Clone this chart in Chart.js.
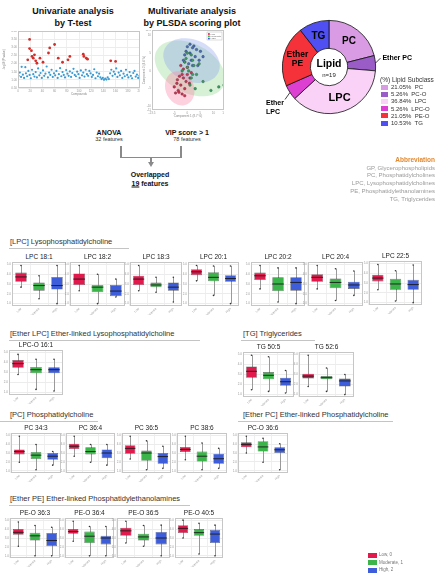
<!DOCTYPE html>
<html>
<head>
<meta charset="utf-8">
<script src="https://cdn.jsdelivr.net/npm/chart.js@4.4.1/dist/chart.umd.min.js"></script>
<style>
  html, body { margin: 0; padding: 0; background: #fff; }
  body { width: 448px; height: 583px; position: relative; overflow: hidden;
         font-family: 'Liberation Sans', Arial, sans-serif; color: #111; }
  .abs { position: absolute; white-space: pre; line-height: 1; }
  canvas { position: absolute; }
  .rule { position: absolute; height: 1px; background: #c4c4c4; }
  .arrow { position: absolute; background: #8a8a8a; }
</style>
</head>
<body>
<script>
// ---- data: lipid subclass doughnut ----
const subclassCodes = ['PC', 'PC-O', 'LPC', 'LPC-O', 'PE-O', 'TG'];
const subclassCounts = [4, 1, 7, 1, 4, 2];
const subclassColors = ['#d99be3', '#9a5cc6', '#fad2f8', '#de3fd3', '#f5323a', '#4f4ff2'];
const sliceNames = ['PC', '', 'LPC', '', 'Ether\nPE', 'TG'];
const outerNames = ['', 'Ether PC', '', 'Ether\nLPC', '', ''];

// ---- data: univariate t-test plot ----
const tIndexRed = [16, 19, 19, 22, 23, 25, 27, 29, 31, 36, 41, 50, 52, 60, 66, 73, 82, 85, 107, 108, 112, 114, 152, 160];
const tScoreRed = [2.23, 3.48, 2.92, 2.79, 2.44, 2.33, 2.54, 2.17, 2.02, 2.33, 2.08, 2.65, 2.96, 3.17, 2.33, 2.08, 2.23, 2.44, 2.58, 2.44, 2.33, 2.27, 2.17, 2.13];
const tIndexBlue = [1, 3, 5, 6, 8, 10, 12, 13, 15, 17, 19, 21, 23, 25, 27, 29, 31, 33, 35, 37, 39, 41, 43, 45, 47, 49,
  51, 53, 55, 57, 59, 61, 63, 65, 67, 69, 71, 73, 75, 77, 79, 81, 83, 85, 87, 89, 91, 93, 95, 97, 99,
  101, 103, 105, 107, 109, 111, 113, 115, 117, 119, 121, 123, 125, 127, 129, 131, 133, 135, 137, 139,
  141, 143, 145, 147, 149, 151, 153, 155, 157, 159, 161, 163, 165, 167, 169, 171, 173, 175, 177, 179,
  181, 183, 185, 187, 189, 191, 193, 195, 197, 199];
const tScoreBlue = [1.25, 1.45, 1.18, 1.80, 1.32, 1.12, 1.78, 1.40, 1.22, 1.55, 1.30, 1.10, 1.62, 1.35, 1.20, 1.48, 1.15, 1.70, 1.28, 1.42, 1.12, 1.58, 1.25, 1.38, 1.82, 1.15,
  1.45, 1.30, 1.62, 1.18, 1.40, 1.28, 1.55, 1.12, 1.35, 1.72, 1.22, 1.48, 1.30, 1.15, 1.60, 1.38, 1.25, 1.52, 1.18, 1.42, 1.68, 1.30, 1.22, 1.50, 1.35,
  1.12, 1.58, 1.28, 1.45, 1.20, 1.62, 1.35, 1.25, 1.55, 1.40, 1.18, 1.30, 1.65, 1.10, 1.45, 1.22, 1.38, 1.15, 1.05, 1.12,
  1.00, 1.08, 1.02, 1.15, 1.05, 1.40, 1.62, 1.25, 1.50, 1.35, 1.70, 1.18, 1.45, 1.28, 1.55, 1.12, 1.38, 1.22, 1.62, 1.30,
  1.15, 1.48, 1.25, 1.10, 1.42, 1.55, 1.20, 1.32, 1.12, 1.25];

// ---- data: PLS-DA score plot ----
const plsLowX = [-4, -3.5, -2, -1.5, -0.5, -3, -2.5, -1, -3.8, 0, -1.5, -2.5, 0.8, -1, -3.2, -2, 1, -1, 0, 1.5, -5, -4.5];
const plsLowY = [-3.5, -5.5, -6.5, -2, -3, -1.5, -4, -5, -2.5, -1, 0.5, 1.5, -3.5, -7, -6, -1, -2, 2.5, 1, -0.5, -4.5, -6.2];
const plsModX = [0, 1.5, 2, -1, 3.5, 1.5, 12, 14, 0.5, 2.5, -0.5, 4.5, 1, 3, -2, 0, 6, 2, 9];
const plsModY = [1, -2, 3, 2.5, -1, 4.5, -4.5, -4, 0, 1.5, 3.5, 2, -4, -5, 0, 5, -3, -1, -5.5];
const plsHighX = [1, 2, 3, 4.5, -1, 0, 2.5, 5, 1.5, -0.5, 3.5, 0.5, 2, 6, -1.5, 1, 4];
const plsHighY = [5, 6.5, 4, 3, 4.5, 6.8, 7, 5.5, 3, 5.5, 6, 2, 1.5, 4, 3, 7.5, 1.5];
// confidence ellipses: Moderate, High, Low (centre, semi-axis vectors in data units)
const ellCx = [1.0, 1.6, -2.9];
const ellCy = [0.7, 2.9, -4.9];
const ellUx = [12.6, 10.2, 1.2];
const ellUy = [-5.2, -3.4, -4.8];
const ellVx = [4.7, 3.5, 5.5];
const ellVy = [5.9, 5.3, 0.3];

// ---- data: box plots (min, q1, median, q3, max; scaled values) ----
const groupLabels = ['Low', 'Moderate', 'High'];
const groupColors = ['#e2194c', '#3bb54a', '#3d5ddb'];
const panelNames = ['LPC 18:1', 'LPC 18:2', 'LPC 18:3', 'LPC 20:1', 'LPC 20:2', 'LPC 20:4', 'LPC 22:5',
  'LPC-O 16:1', 'TG 50:5', 'TG 52:6',
  'PC 34:3', 'PC 36:4', 'PC 36:5', 'PC 38:6', 'PC-O 36:6',
  'PE-O 36:3', 'PE-O 36:4', 'PE-O 36:5', 'PE-O 40:5'];
const lowStats = [
  [4.2, 5.6, 6.8, 7.9, 9.7], [3.3, 4.75, 6.25, 7.7, 9.7], [3.3, 4.75, 6.25, 7.1, 9.7], [5.8, 7.25, 8.1, 8.75, 9.7],
  [3.75, 6.0, 7.1, 7.9, 9.7], [3.75, 5.6, 6.7, 7.5, 9.7], [3.3, 5.4, 6.25, 7.1, 9.7],
  [4.5, 6.2, 7.2, 8.1, 9.5], [1.2, 4.2, 5.8, 7.0, 9.8], [2.0, 4.0, 4.6, 5.2, 9.8],
  [2.4, 4.6, 5.4, 6.0, 9.7], [4.1, 6.1, 6.9, 7.6, 9.7], [3.3, 4.8, 6.3, 7.2, 9.7], [3.1, 5.3, 6.0, 6.7, 9.7], [5.0, 6.6, 7.4, 8.0, 9.7],
  [2.7, 5.9, 6.6, 7.5, 9.5], [4.1, 6.2, 6.8, 7.5, 9.7], [3.6, 5.6, 7.0, 7.9, 9.7], [5.0, 6.4, 7.7, 8.6, 10]];
const modStats = [
  [1.25, 3.3, 4.6, 5.4, 7.1], [0, 2.9, 4.2, 4.75, 7.5], [2.9, 4.2, 4.75, 5.4, 6.7], [2.1, 5.7, 6.7, 8.0, 9.6],
  [0.4, 3.2, 5.0, 6.7, 9.1], [0.8, 3.9, 5.4, 6.4, 8.9], [0.4, 3.3, 4.75, 6.1, 8.1],
  [0.8, 4.8, 5.7, 6.4, 8.3], [0.8, 3.8, 4.8, 5.6, 9.4], [0.8, 3.8, 4.2, 4.6, 6.6],
  [0.3, 3.3, 4.4, 5.3, 7.4], [2.4, 4.6, 5.4, 6.6, 7.4], [0.3, 2.8, 5.0, 5.7, 8.4], [0.3, 2.6, 4.1, 5.4, 7.8], [2.4, 5.4, 6.7, 8.3, 9.1],
  [0, 4.3, 5.6, 6.5, 8.5], [0, 3.6, 5.5, 6.8, 8.2], [2.7, 4.3, 5.3, 6.2, 8.5], [0.5, 5.6, 6.5, 7.5, 9.1]];
const highStats = [
  [0, 3.6, 4.6, 6.8, 9.7], [1.7, 1.9, 3.2, 4.75, 6.25], [0.4, 3.3, 4.2, 5.4, 6.7], [0, 5.6, 6.4, 7.25, 9.6],
  [0, 3.3, 5.4, 6.7, 9.1], [2.1, 3.75, 4.75, 5.6, 8.3], [0, 3.3, 4.6, 5.8, 9.6],
  [0.4, 4.8, 5.7, 6.3, 8.3], [0.4, 2.2, 3.2, 4.2, 6.0], [0, 2.0, 3.4, 4.0, 5.0],
  [1.6, 3.1, 4.1, 5.0, 5.4], [1.6, 3.5, 5.0, 6.0, 7.4], [0.7, 2.0, 4.0, 5.0, 6.9], [0.7, 2.0, 3.4, 4.8, 6.3], [0.3, 5.0, 5.9, 6.6, 7.6],
  [0, 2.7, 4.3, 6.4, 8.0], [0, 3.2, 5.0, 5.6, 8.2], [0, 3.2, 5.0, 6.7, 8.6], [0, 3.6, 6.1, 7.3, 8.6]];

// ---- layout (plot area rectangles: x0, y0, x1, y1) ----
const panelRects = [
  [12, 262, 66, 306], [70, 262, 125, 306], [130, 262, 182, 306], [188, 262, 239, 306],
  [251, 262, 305, 306], [308, 262, 363, 306], [369, 261, 422, 305],
  [9, 350, 63, 395], [243, 352, 294, 397], [299, 352, 354, 397],
  [11, 433, 61, 473], [66, 433, 115, 473], [122, 433, 171, 473], [177, 433, 227, 473], [238, 433, 288, 473],
  [10, 518, 60, 558], [65, 518, 114, 558], [117, 518, 170, 558], [175, 518, 223, 558]];

const FONT = "'Liberation Sans', Arial, sans-serif";
Chart.defaults.font.family = FONT;
Chart.defaults.animation = false;

function addText(str, x, y, opts) {
  opts = opts || {};
  const d = document.createElement('div');
  d.className = 'abs';
  d.textContent = str;
  d.style.left = x + 'px';
  d.style.top = y + 'px';
  d.style.fontSize = (opts.size || 7) + 'px';
  if (opts.bold) d.style.fontWeight = 'bold';
  if (opts.color) d.style.color = opts.color;
  if (opts.lh) d.style.lineHeight = opts.lh + 'px';
  let tx = '0';
  if (opts.align === 'center') { tx = '-50%'; d.style.textAlign = 'center'; }
  if (opts.align === 'right') { tx = '-100%'; d.style.textAlign = 'right'; }
  d.style.transform = 'translate(' + tx + ', -50%)';
  document.body.appendChild(d);
  return d;
}

function addRule(x, y, w) {
  const r = document.createElement('div');
  r.className = 'rule';
  r.style.left = x + 'px'; r.style.top = y + 'px'; r.style.width = w + 'px';
  document.body.appendChild(r);
}

function addBar(x, y, w, h) {
  const b = document.createElement('div');
  b.className = 'arrow';
  b.style.left = x + 'px'; b.style.top = y + 'px';
  b.style.width = w + 'px'; b.style.height = h + 'px';
  document.body.appendChild(b);
}

function addCanvas(left, top, w, h) {
  const c = document.createElement('canvas');
  c.width = w; c.height = h;
  c.style.left = left + 'px'; c.style.top = top + 'px';
  c.style.width = w + 'px'; c.style.height = h + 'px';
  document.body.appendChild(c);
  return c;
}

// draws a light frame round the plot area
const frame = {
  id: 'frame',
  afterDraw(chart) {
    const a = chart.chartArea, ctx = chart.ctx;
    ctx.save();
    ctx.strokeStyle = '#c6c6c6';
    ctx.lineWidth = 1;
    ctx.strokeRect(Math.round(a.left) + 0.5, Math.round(a.top) + 0.5, Math.round(a.width) - 1, Math.round(a.height) - 1);
    ctx.restore();
  }
};

function tinyAxis(width, height) {
  return {
    x: {
      grid: { color: '#efefef', drawTicks: false }, border: { display: false },
      ticks: { font: { size: 3 }, color: '#999', padding: 1, autoSkip: false },
      afterFit: a => { if (height !== undefined) a.height = height; a.paddingLeft = 0; a.paddingRight = 0; }
    },
    y: {
      grid: { color: '#ececec', drawTicks: false }, border: { display: false },
      ticks: { font: { size: 3 }, color: '#999', padding: 1 },
      afterFit: a => { if (width !== undefined) a.width = width; a.paddingTop = 0; a.paddingBottom = 0; }
    }
  };
}

// ---------------- top titles ----------------
addText('Univariate analysis\nby T-test', 73, 17, { size: 9, bold: true, align: 'center', lh: 12 });
addText('Multivariate analysis\nby PLSDA scoring plot', 192, 17, { size: 9, bold: true, align: 'center', lh: 12 });

// ---------------- univariate t-test scatter ----------------
(function () {
  const sc = tinyAxis(16, 8);
  sc.x.min = 0; sc.x.max = 200; sc.x.ticks.stepSize = 20;
  sc.x.title = { display: true, text: 'Compounds', font: { size: 3 }, color: '#888', padding: 0 };
  sc.y.min = 0.5; sc.y.max = 4.0; sc.y.ticks.stepSize = 0.5;
  sc.y.ticks.callback = v => v.toFixed(2);
  sc.y.title = { display: true, text: '-log10(P value)', font: { size: 3 }, color: '#888', padding: 0 };
  new Chart(addCanvas(2, 31, 138, 65), {
    type: 'scatter',
    data: {
      datasets: [
        { data: tIndexRed.map((x, i) => ({ x: x, y: tScoreRed[i] })), backgroundColor: '#d22f2a', borderWidth: 0, pointRadius: 1.4 },
        { data: tIndexBlue.map((x, i) => ({ x: x, y: tScoreBlue[i] })), backgroundColor: '#3b9ad2', borderWidth: 0, pointRadius: 1.1 }
      ]
    },
    options: {
      responsive: false, animation: false, devicePixelRatio: 1,
      layout: { padding: 0, autoPadding: false },
      plugins: { legend: { display: false }, tooltip: { enabled: false } },
      scales: sc
    },
    plugins: [frame]
  });
})();

// ---------------- PLS-DA score plot ----------------
(function () {
  const ellColors = ['rgba(140,215,140,0.36)', 'rgba(140,160,235,0.36)', 'rgba(250,140,170,0.40)'];
  const ellipses = {
    id: 'ellipses',
    beforeDatasetsDraw(chart) {
      const ctx = chart.ctx, xs = chart.scales.x, ys = chart.scales.y;
      ctx.save();
      ctx.beginPath();
      ctx.rect(chart.chartArea.left, chart.chartArea.top, chart.chartArea.width, chart.chartArea.height);
      ctx.clip();
      ellCx.forEach((cx, i) => {
        ctx.beginPath();
        for (let k = 0; k <= 72; k++) {
          const t = k / 72 * Math.PI * 2;
          const dx = cx + ellUx[i] * Math.cos(t) + ellVx[i] * Math.sin(t);
          const dy = ellCy[i] + ellUy[i] * Math.cos(t) + ellVy[i] * Math.sin(t);
          const px = xs.getPixelForValue(dx), py = ys.getPixelForValue(dy);
          if (k === 0) ctx.moveTo(px, py); else ctx.lineTo(px, py);
        }
        ctx.closePath();
        ctx.fillStyle = ellColors[i];
        ctx.fill();
      });
      ctx.restore();
    },
    afterDraw(chart) {
      // tiny key in the top-right corner
      const ctx = chart.ctx, a = chart.chartArea;
      const kx = a.right - 17, ky = a.top + 2;
      ctx.save();
      ctx.fillStyle = '#fff'; ctx.strokeStyle = '#bbb'; ctx.lineWidth = 0.5;
      ctx.fillRect(kx, ky, 15, 8); ctx.strokeRect(kx, ky, 15, 8);
      ctx.font = '2.5px ' + FONT; ctx.textBaseline = 'middle';
      groupLabels.forEach((g, i) => {
        ctx.fillStyle = groupColors[i];
        ctx.fillRect(kx + 1, ky + 1.2 + i * 2.3, 1.8, 1.6);
        ctx.fillStyle = '#666';
        ctx.fillText(g, kx + 3.5, ky + 2 + i * 2.3);
      });
      ctx.restore();
    }
  };
  const sc = tinyAxis(10, 8);
  sc.x.min = -13.5; sc.x.max = 14; sc.x.ticks.stepSize = 5;
  sc.x.title = { display: true, text: 'Component 1 (8.7 %)', font: { size: 3 }, color: '#888', padding: 0 };
  sc.y.min = -11; sc.y.max = 11.5; sc.y.ticks.stepSize = 5;
  sc.y.title = { display: true, text: 'Component 2 (4.4 %)', font: { size: 3 }, color: '#888', padding: 0 };
  sc.x.grid.display = false; sc.y.grid.display = false;
  const pts = (xs, ys) => xs.map((x, i) => ({ x: x, y: ys[i] }));
  new Chart(addCanvas(142, 30, 82, 88), {
    type: 'scatter',
    data: {
      datasets: [
        { data: pts(plsModX, plsModY), backgroundColor: '#3f9a63', borderColor: '#2b5f40', borderWidth: 0.4, pointRadius: 1.3 },
        { data: pts(plsHighX, plsHighY), backgroundColor: '#4f6db0', borderColor: '#2c3f70', borderWidth: 0.4, pointRadius: 1.3 },
        { data: pts(plsLowX, plsLowY), backgroundColor: '#c23a55', borderColor: '#7a2233', borderWidth: 0.4, pointRadius: 1.3 }
      ]
    },
    options: {
      responsive: false, animation: false, devicePixelRatio: 1,
      layout: { padding: 0, autoPadding: false },
      plugins: { legend: { display: false }, tooltip: { enabled: false } },
      scales: sc
    },
    plugins: [ellipses, frame]
  });
})();

// ---------------- feature selection flow ----------------
addText('ANOVA', 109, 132, { size: 7, bold: true, align: 'center' });
addText('32 features', 109, 140, { size: 5.5, align: 'center', color: '#333' });
addText('VIP score > 1', 187, 132, { size: 7, bold: true, align: 'center' });
addText('78 features', 187, 140, { size: 5.5, align: 'center', color: '#333' });
addBar(120, 146, 1.5, 12);
addBar(180, 146, 1.5, 12);
addBar(120, 156.5, 61.5, 1.5);
addBar(150.3, 157, 1.5, 6);
(function () {
  const tip = document.createElement('div');
  tip.style.cssText = 'position:absolute;left:148px;top:162px;width:0;height:0;border-left:3.5px solid transparent;border-right:3.5px solid transparent;border-top:5px solid #8a8a8a;';
  document.body.appendChild(tip);
})();
addText('Overlapped', 150, 174, { size: 7, bold: true, align: 'center' });
(function () {
  const d = addText('', 150, 183, { size: 7, bold: true, align: 'center' });
  d.innerHTML = '<span style="text-decoration:underline">19</span> features';
})();

// ---------------- lipid subclass doughnut ----------------
(function () {
  const total = subclassCounts.reduce((a, b) => a + b, 0);
  const lipidLabels = {
    id: 'lipidLabels',
    afterDatasetsDraw(chart) {
      const ctx = chart.ctx;
      const arcs = chart.getDatasetMeta(0).data;
      ctx.save();
      ctx.fillStyle = '#000';
      ctx.textBaseline = 'middle';
      arcs.forEach((arc, i) => {
        const p = arc.getProps(['x', 'y', 'startAngle', 'endAngle', 'innerRadius', 'outerRadius'], true);
        const mid = (p.startAngle + p.endAngle) / 2;
        if (sliceNames[i]) {
          const r = (p.innerRadius + p.outerRadius) / 2;
          const lines = sliceNames[i].split('\n');
          const size = lines.length > 1 ? 8.5 : (subclassCounts[i] > 5 ? 11 : 10);
          ctx.font = 'bold ' + size + 'px ' + FONT;
          ctx.textAlign = 'center';
          const cx = p.x + Math.cos(mid) * r, cy = p.y + Math.sin(mid) * r;
          lines.forEach((t, k) => ctx.fillText(t, cx, cy + (k - (lines.length - 1) / 2) * (size + 1)));
        }
        if (outerNames[i]) {
          const sx = p.x + Math.cos(mid) * p.outerRadius, sy = p.y + Math.sin(mid) * p.outerRadius;
          const right = Math.cos(mid) > 0;
          const ex = right ? sx + 5 : sx - 5, ey = right ? sy - 5 : sy + 7;
          ctx.strokeStyle = '#111'; ctx.lineWidth = 0.8;
          ctx.beginPath(); ctx.moveTo(sx, sy); ctx.lineTo(ex, ey); ctx.stroke();
          ctx.font = 'bold 7px ' + FONT;
          const lines = outerNames[i].split('\n');
          ctx.textAlign = 'left';
          if (right) {
            ctx.fillText(lines[0], ex + 2, ey);
          } else {
            lines.forEach((t, k) => ctx.fillText(t, ex - 19, ey + 4 + k * 8.5));
          }
        }
      });
      const c = arcs[0];
      ctx.textAlign = 'center';
      ctx.font = 'bold 10.5px ' + FONT;
      ctx.fillText('Lipid', c.x, c.y - 2.5);
      ctx.font = '6px ' + FONT;
      ctx.fillStyle = '#222';
      ctx.fillText('n=' + total, c.x, c.y + 8);
      ctx.restore();
    }
  };
  new Chart(addCanvas(250, 0, 198, 140), {
    type: 'doughnut',
    data: {
      labels: subclassCodes,
      datasets: [{ data: subclassCounts, backgroundColor: subclassColors, borderColor: '#111', borderWidth: 0.8 }]
    },
    options: {
      responsive: false, animation: false, devicePixelRatio: 1,
      cutout: '40%',
      layout: { padding: { left: 32, right: 72, top: 20, bottom: 26 } },
      plugins: { legend: { display: false }, tooltip: { enabled: false } }
    },
    plugins: [lipidLabels]
  });

  // legend
  addText('(%) Lipid Subclass', 380, 80, { size: 6.5, color: '#333' });
  subclassCodes.forEach((code, i) => {
    const y = 87 + i * 7.2;
    const sw = document.createElement('div');
    sw.style.cssText = 'position:absolute;left:381px;width:7px;height:5px;top:' + (y - 2.5) + 'px;background:' + subclassColors[i];
    document.body.appendChild(sw);
    const pct = (subclassCounts[i] / total * 100).toFixed(2);
    addText(pct + '%  ' + code, 391, y, { size: 6, color: '#333' });
  });
})();

// ---------------- abbreviations ----------------
addText('Abbreviation', 435, 160, { size: 6.5, bold: true, align: 'right', color: '#e3892f' });
['GP, Glycerophospholipids', 'PC, Phosphatidylcholines', 'LPC, Lysophosphatidylcholines',
 'PE, Phosphatidylethanolamines', 'TG, Triglycerides'].forEach((t, i) => {
  addText(t, 435, 167.5 + i * 7.8, { size: 6, align: 'right', color: '#9a9a9a' });
});

// ---------------- section headers ----------------
addText('[LPC] Lysophosphatidylcholine', 10, 242, { size: 7.5, color: '#333' });
addRule(9, 248, 120);
addText('[Ether LPC] Ether-linked Lysophosphatidylcholine', 10, 334, { size: 7.5, color: '#333' });
addRule(9, 340, 191);
addText('[TG] Triglycerides', 243, 334, { size: 7.5, color: '#333' });
addRule(241, 340, 74);
addText('[PC] Phosphatidylcholine', 10, 415, { size: 7.5, color: '#333' });
addRule(0, 421, 98);
addText('[Ether PC] Ether-linked Phosphatidylcholine', 243, 415, { size: 7.5, color: '#333' });
addRule(238, 421, 155);
addText('[Ether PE] Ether-linked Phosphatidylethanolamines', 10, 499, { size: 7.5, color: '#333' });
addRule(9, 505, 181);

// ---------------- box plots ----------------
// whiskers: crisp grey lines from min to max, drawn under the boxes
const whiskers = {
  id: 'whiskers',
  beforeDatasetsDraw(chart) {
    const ctx = chart.ctx, xs = chart.scales.x, ys = chart.scales.y;
    const ranges = chart.options.whiskerRanges || [];
    ctx.save();
    ctx.strokeStyle = '#9a9a9a';
    ctx.lineWidth = 1;
    ranges.forEach((s, k) => {
      const px = Math.round(xs.getPixelForValue(k)) + 0.5;
      ctx.beginPath();
      ctx.moveTo(px, ys.getPixelForValue(s[0]));
      ctx.lineTo(px, ys.getPixelForValue(s[4]));
      ctx.stroke();
    });
    ctx.restore();
  }
};

function drawBoxPanel(i) {
  const [x0, y0, x1, y1] = panelRects[i];
  const cv = addCanvas(x0 - 6, y0, x1 - x0 + 6, y1 - y0 + 9);
  addText(panelNames[i], (x0 + x1) / 2, y0 - 5, { size: 6.5, align: 'center', color: '#222' });
  const stats = [lowStats[i], modStats[i], highStats[i]];
  const boxFrac = 0.64;
  const halfBox = (x1 - x0) / 3 * boxFrac / 2;
  const sc = tinyAxis(6, 9);
  sc.x.ticks.maxRotation = 45; sc.x.ticks.minRotation = 45;
  sc.y.min = -0.6; sc.y.max = 10.6;
  sc.y.ticks.stepSize = 2.5; sc.y.ticks.includeBounds = false;
  sc.y.ticks.callback = v => (v / 2.5 + 1).toFixed(1);
  new Chart(cv, {
    type: 'bar',
    data: {
      labels: groupLabels,
      datasets: [
        { type: 'line', data: stats.map(s => s[2]), showLine: false, pointStyle: 'line',
          pointRadius: halfBox, pointBorderColor: '#1a1a1a', pointBorderWidth: 0.9, order: 0 },
        // whisker end observations
        { type: 'line', data: stats.map(s => s[0]), showLine: false, pointRadius: 0.8,
          pointBackgroundColor: '#333', pointBorderWidth: 0, order: 0 },
        { type: 'line', data: stats.map(s => s[4]), showLine: false, pointRadius: 0.8,
          pointBackgroundColor: '#333', pointBorderWidth: 0, order: 0 },
        { data: stats.map(s => [s[1], s[3]]), backgroundColor: groupColors, borderColor: 'rgba(50,50,50,0.75)',
          borderWidth: 0.6, borderSkipped: false, barPercentage: boxFrac, categoryPercentage: 1, order: 1 }
      ]
    },
    options: {
      responsive: false, animation: false, devicePixelRatio: 1,
      whiskerRanges: stats,
      layout: { padding: 0, autoPadding: false },
      plugins: { legend: { display: false }, tooltip: { enabled: false } },
      scales: sc
    },
    plugins: [whiskers, frame]
  });
}
panelNames.forEach((n, i) => drawBoxPanel(i));

// ---------------- group legend ----------------
['Low, 0', 'Moderate, 1', 'High, 2'].forEach((t, i) => {
  const y = 555 + i * 7.5;
  const sw = document.createElement('div');
  sw.style.cssText = 'position:absolute;left:368px;width:9px;height:5px;top:' + (y - 2.5) + 'px;background:' + groupColors[i];
  document.body.appendChild(sw);
  addText(t, 379, y, { size: 4.5, color: '#777' });
});
</script>
</body>
</html>
